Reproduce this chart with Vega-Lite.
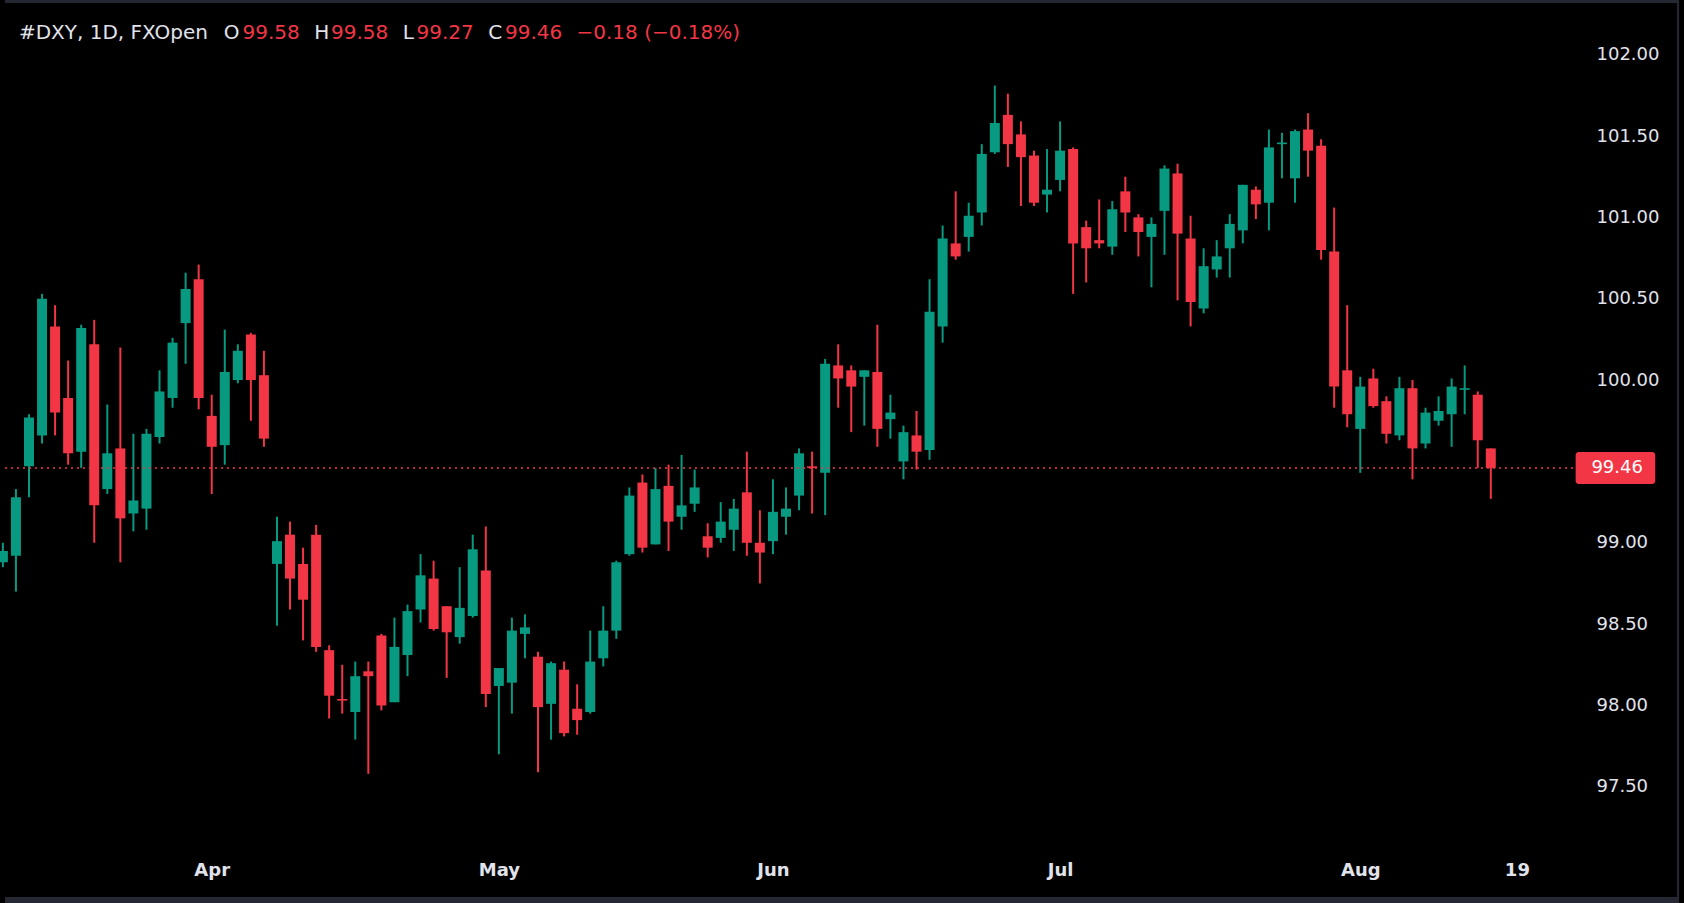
{
  "$schema": "https://vega.github.io/schema/vega-lite/v6.json",
  "width": 1684,
  "height": 903,
  "autosize": {"type": "none"},
  "padding": 0,
  "background": "#000000",
  "view": {"stroke": null, "fill": "#000000"},
  "resolve": {"axis": {"x": "independent", "y": "independent"}},
  "datasets": {
    "candles": [
      {"i":0,"o":98.88,"h":99.00,"l":98.85,"c":98.95},
      {"i":1,"o":98.92,"h":99.33,"l":98.70,"c":99.28},
      {"i":2,"o":99.47,"h":99.79,"l":99.28,"c":99.77},
      {"i":3,"o":99.66,"h":100.53,"l":99.61,"c":100.50},
      {"i":4,"o":100.33,"h":100.46,"l":99.66,"c":99.80},
      {"i":5,"o":99.89,"h":100.12,"l":99.48,"c":99.55},
      {"i":6,"o":99.56,"h":100.34,"l":99.46,"c":100.32},
      {"i":7,"o":100.22,"h":100.37,"l":99.00,"c":99.23},
      {"i":8,"o":99.33,"h":99.85,"l":99.30,"c":99.55},
      {"i":9,"o":99.58,"h":100.20,"l":98.88,"c":99.15},
      {"i":10,"o":99.18,"h":99.67,"l":99.07,"c":99.26},
      {"i":11,"o":99.21,"h":99.70,"l":99.08,"c":99.67},
      {"i":12,"o":99.65,"h":100.06,"l":99.61,"c":99.93},
      {"i":13,"o":99.89,"h":100.26,"l":99.83,"c":100.23},
      {"i":14,"o":100.35,"h":100.66,"l":100.10,"c":100.56},
      {"i":15,"o":100.62,"h":100.71,"l":99.82,"c":99.89},
      {"i":16,"o":99.78,"h":99.91,"l":99.30,"c":99.59},
      {"i":17,"o":99.60,"h":100.31,"l":99.48,"c":100.05},
      {"i":18,"o":100.00,"h":100.22,"l":99.98,"c":100.18},
      {"i":19,"o":100.28,"h":100.29,"l":99.75,"c":100.00},
      {"i":20,"o":100.03,"h":100.18,"l":99.59,"c":99.64},
      {"i":21,"o":98.87,"h":99.16,"l":98.49,"c":99.01},
      {"i":22,"o":99.05,"h":99.13,"l":98.59,"c":98.78},
      {"i":23,"o":98.87,"h":98.97,"l":98.40,"c":98.65},
      {"i":24,"o":99.05,"h":99.11,"l":98.33,"c":98.36},
      {"i":25,"o":98.34,"h":98.37,"l":97.92,"c":98.06},
      {"i":26,"o":98.04,"h":98.25,"l":97.95,"c":98.03},
      {"i":27,"o":97.96,"h":98.27,"l":97.79,"c":98.18},
      {"i":28,"o":98.21,"h":98.27,"l":97.58,"c":98.18},
      {"i":29,"o":98.43,"h":98.44,"l":97.97,"c":98.00},
      {"i":30,"o":98.02,"h":98.54,"l":98.02,"c":98.36},
      {"i":31,"o":98.31,"h":98.62,"l":98.18,"c":98.58},
      {"i":32,"o":98.59,"h":98.93,"l":98.51,"c":98.80},
      {"i":33,"o":98.78,"h":98.89,"l":98.46,"c":98.47},
      {"i":34,"o":98.61,"h":98.61,"l":98.17,"c":98.45},
      {"i":35,"o":98.42,"h":98.85,"l":98.38,"c":98.60},
      {"i":36,"o":98.55,"h":99.05,"l":98.54,"c":98.96},
      {"i":37,"o":98.83,"h":99.10,"l":97.99,"c":98.07},
      {"i":38,"o":98.12,"h":98.23,"l":97.70,"c":98.23},
      {"i":39,"o":98.14,"h":98.54,"l":97.95,"c":98.46},
      {"i":40,"o":98.44,"h":98.56,"l":98.29,"c":98.48},
      {"i":41,"o":98.30,"h":98.33,"l":97.59,"c":97.99},
      {"i":42,"o":98.01,"h":98.27,"l":97.79,"c":98.26},
      {"i":43,"o":98.22,"h":98.27,"l":97.81,"c":97.83},
      {"i":44,"o":97.98,"h":98.13,"l":97.82,"c":97.91},
      {"i":45,"o":97.96,"h":98.46,"l":97.95,"c":98.27},
      {"i":46,"o":98.29,"h":98.61,"l":98.24,"c":98.46},
      {"i":47,"o":98.46,"h":98.89,"l":98.41,"c":98.88},
      {"i":48,"o":98.93,"h":99.34,"l":98.92,"c":99.29},
      {"i":49,"o":99.37,"h":99.42,"l":98.94,"c":98.97},
      {"i":50,"o":98.99,"h":99.46,"l":98.99,"c":99.33},
      {"i":51,"o":99.35,"h":99.48,"l":98.95,"c":99.13},
      {"i":52,"o":99.16,"h":99.54,"l":99.08,"c":99.23},
      {"i":53,"o":99.24,"h":99.45,"l":99.19,"c":99.34},
      {"i":54,"o":99.04,"h":99.12,"l":98.91,"c":98.97},
      {"i":55,"o":99.03,"h":99.25,"l":99.00,"c":99.13},
      {"i":56,"o":99.08,"h":99.27,"l":98.95,"c":99.21},
      {"i":57,"o":99.31,"h":99.56,"l":98.92,"c":99.00},
      {"i":58,"o":99.00,"h":99.20,"l":98.75,"c":98.94},
      {"i":59,"o":99.01,"h":99.39,"l":98.93,"c":99.19},
      {"i":60,"o":99.16,"h":99.34,"l":99.05,"c":99.21},
      {"i":61,"o":99.29,"h":99.58,"l":99.20,"c":99.55},
      {"i":62,"o":99.47,"h":99.56,"l":99.18,"c":99.46},
      {"i":63,"o":99.43,"h":100.13,"l":99.17,"c":100.10},
      {"i":64,"o":100.09,"h":100.22,"l":99.83,"c":100.01},
      {"i":65,"o":100.06,"h":100.09,"l":99.68,"c":99.96},
      {"i":66,"o":100.02,"h":100.06,"l":99.72,"c":100.06},
      {"i":67,"o":100.05,"h":100.34,"l":99.59,"c":99.70},
      {"i":68,"o":99.76,"h":99.91,"l":99.64,"c":99.80},
      {"i":69,"o":99.50,"h":99.72,"l":99.39,"c":99.68},
      {"i":70,"o":99.66,"h":99.81,"l":99.45,"c":99.56},
      {"i":71,"o":99.57,"h":100.62,"l":99.51,"c":100.42},
      {"i":72,"o":100.33,"h":100.95,"l":100.23,"c":100.87},
      {"i":73,"o":100.84,"h":101.16,"l":100.74,"c":100.76},
      {"i":74,"o":100.88,"h":101.09,"l":100.79,"c":101.01},
      {"i":75,"o":101.03,"h":101.45,"l":100.95,"c":101.39},
      {"i":76,"o":101.40,"h":101.81,"l":101.39,"c":101.58},
      {"i":77,"o":101.63,"h":101.76,"l":101.31,"c":101.45},
      {"i":78,"o":101.51,"h":101.59,"l":101.07,"c":101.37},
      {"i":79,"o":101.38,"h":101.41,"l":101.07,"c":101.09},
      {"i":80,"o":101.14,"h":101.42,"l":101.03,"c":101.17},
      {"i":81,"o":101.23,"h":101.59,"l":101.16,"c":101.41},
      {"i":82,"o":101.42,"h":101.43,"l":100.53,"c":100.84},
      {"i":83,"o":100.94,"h":100.98,"l":100.60,"c":100.81},
      {"i":84,"o":100.86,"h":101.11,"l":100.81,"c":100.84},
      {"i":85,"o":100.82,"h":101.10,"l":100.77,"c":101.05},
      {"i":86,"o":101.16,"h":101.25,"l":100.91,"c":101.03},
      {"i":87,"o":101.00,"h":101.02,"l":100.76,"c":100.91},
      {"i":88,"o":100.88,"h":101.00,"l":100.57,"c":100.96},
      {"i":89,"o":101.04,"h":101.32,"l":100.77,"c":101.30},
      {"i":90,"o":101.27,"h":101.33,"l":100.49,"c":100.90},
      {"i":91,"o":100.87,"h":101.01,"l":100.33,"c":100.48},
      {"i":92,"o":100.44,"h":100.81,"l":100.41,"c":100.70},
      {"i":93,"o":100.68,"h":100.86,"l":100.63,"c":100.76},
      {"i":94,"o":100.81,"h":101.02,"l":100.63,"c":100.96},
      {"i":95,"o":100.92,"h":101.20,"l":100.84,"c":101.20},
      {"i":96,"o":101.17,"h":101.19,"l":100.99,"c":101.08},
      {"i":97,"o":101.09,"h":101.54,"l":100.92,"c":101.43},
      {"i":98,"o":101.45,"h":101.52,"l":101.24,"c":101.46},
      {"i":99,"o":101.24,"h":101.54,"l":101.09,"c":101.53},
      {"i":100,"o":101.54,"h":101.64,"l":101.25,"c":101.41},
      {"i":101,"o":101.44,"h":101.48,"l":100.74,"c":100.80},
      {"i":102,"o":100.79,"h":101.06,"l":99.83,"c":99.96},
      {"i":103,"o":100.06,"h":100.46,"l":99.71,"c":99.79},
      {"i":104,"o":99.70,"h":100.02,"l":99.43,"c":99.96},
      {"i":105,"o":100.01,"h":100.07,"l":99.83,"c":99.84},
      {"i":106,"o":99.87,"h":99.90,"l":99.61,"c":99.67},
      {"i":107,"o":99.66,"h":100.02,"l":99.63,"c":99.95},
      {"i":108,"o":99.95,"h":100.00,"l":99.39,"c":99.58},
      {"i":109,"o":99.61,"h":99.83,"l":99.58,"c":99.80},
      {"i":110,"o":99.75,"h":99.90,"l":99.72,"c":99.81},
      {"i":111,"o":99.79,"h":100.01,"l":99.59,"c":99.96},
      {"i":112,"o":99.94,"h":100.09,"l":99.79,"c":99.95},
      {"i":113,"o":99.91,"h":99.93,"l":99.46,"c":99.63},
      {"i":114,"o":99.58,"h":99.58,"l":99.27,"c":99.46}
    ],
    "last": [{"c": 99.46}]
  },
  "layer": [
    {
      "data": {"name": "candles"},
      "mark": {"type": "rule", "strokeWidth": 2, "clip": true},
      "encoding": {
        "x": {
          "field": "i", "type": "quantitative",
          "scale": {"domain": [0.162, 128.42], "nice": false, "zero": false},
          "axis": {
            "orient": "bottom", "offset": -33, "title": null,
            "values": [16, 38, 59, 81, 104, 116],
            "labelExpr": "datum.value == 16 ? 'Apr' : datum.value == 38 ? 'May' : datum.value == 59 ? 'Jun' : datum.value == 81 ? 'Jul' : datum.value == 104 ? 'Aug' : '19'",
            "domain": false, "ticks": false, "tickSize": 0, "grid": false,
            "labelPadding": 0, "labelBaseline": "middle",
            "labelFont": "DejaVu Sans", "labelFontSize": 18, "labelFontWeight": "bold",
            "labelColor": "#e0e3eb", "labelOverlap": false, "labelFlush": false
          }
        },
        "y": {
          "field": "l", "type": "quantitative",
          "scale": {"domain": [96.786, 102.336], "nice": false, "zero": false},
          "axis": {
            "orient": "right", "offset": -88, "title": null,
            "values": [97.5, 98, 98.5, 99, 100, 100.5, 101, 101.5, 102],
            "format": ".2f",
            "domain": false, "ticks": false, "tickSize": 0, "grid": false,
            "labelPadding": 0, "labelAlign": "left", "labelBaseline": "middle",
            "labelFont": "DejaVu Sans", "labelFontSize": 18,
            "labelColor": "#e0e3eb", "labelOverlap": false, "labelFlush": false
          }
        },
        "y2": {"field": "h"},
        "color": {"condition": {"test": "datum.c >= datum.o", "value": "#089981"}, "value": "#f23645"}
      }
    },
    {
      "data": {"name": "candles"},
      "mark": {"type": "bar", "size": 10, "clip": true},
      "encoding": {
        "x": {"field": "i", "type": "quantitative", "axis": null},
        "y": {"field": "o", "type": "quantitative", "axis": null},
        "y2": {"field": "c"},
        "color": {"condition": {"test": "datum.c >= datum.o", "value": "#089981"}, "value": "#f23645"}
      }
    },
    {
      "data": {"name": "last"},
      "mark": {"type": "rule", "color": "#f23645", "strokeWidth": 1.5, "strokeDash": [2, 4], "clip": true},
      "encoding": {
        "y": {"field": "c", "type": "quantitative", "axis": null},
        "x": {"datum": 0.162, "type": "quantitative", "axis": null},
        "x2": {"datum": 120.5}
      }
    },
    {
      "data": {"name": "last"},
      "mark": {"type": "rect", "color": "#f23645", "cornerRadius": 3},
      "encoding": {
        "x": {"datum": 120.5, "type": "quantitative", "axis": null},
        "x2": {"datum": 126.6},
        "y": {"datum": 99.362, "type": "quantitative", "axis": null},
        "y2": {"datum": 99.558}
      }
    },
    {
      "data": {"name": "last"},
      "mark": {"type": "text", "align": "left", "baseline": "middle", "font": "DejaVu Sans", "fontSize": 18, "color": "#ffffff"},
      "encoding": {
        "x": {"datum": 121.71, "type": "quantitative", "axis": null},
        "y": {"field": "c", "type": "quantitative", "axis": null},
        "text": {"field": "c", "type": "quantitative", "format": ".2f"}
      }
    },
    {
      "data": {"name": "last"},
      "mark": {"type": "rect", "color": "#252833", "clip": true},
      "encoding": {
        "x": {"datum": 0.162, "type": "quantitative", "axis": null},
        "x2": {"datum": 128.42},
        "y": {"datum": 96.786, "type": "quantitative", "axis": null},
        "y2": {"datum": 96.823}
      }
    },
    {
      "data": {"name": "last"},
      "mark": {"type": "rect", "color": "#252833", "clip": true},
      "encoding": {
        "x": {"datum": 0.162, "type": "quantitative", "axis": null},
        "x2": {"datum": 128.42},
        "y": {"datum": 102.318, "type": "quantitative", "axis": null},
        "y2": {"datum": 102.336}
      }
    },
    {
      "data": {"name": "last"},
      "mark": {"type": "rect", "color": "#252833", "clip": true},
      "encoding": {
        "x": {"datum": 128.27, "type": "quantitative", "axis": null},
        "x2": {"datum": 128.42},
        "y": {"datum": 96.786, "type": "quantitative", "axis": null},
        "y2": {"datum": 102.336}
      }
    },
    {
      "data": {"name": "last"},
      "mark": {"type": "text", "align": "left", "baseline": "middle", "font": "DejaVu Sans", "fontSize": 20, "color": "#e0e3eb"},
      "encoding": {"x": {"datum": 1.229, "type": "quantitative", "axis": null}, "y": {"datum": 102.134, "type": "quantitative", "axis": null}, "text": {"value": "#DXY, 1D, FXOpen"}}
    },
    {
      "data": {"name": "last"},
      "mark": {"type": "text", "align": "left", "baseline": "middle", "font": "DejaVu Sans", "fontSize": 20, "color": "#e0e3eb"},
      "encoding": {"x": {"datum": 16.92, "type": "quantitative", "axis": null}, "y": {"datum": 102.134, "type": "quantitative", "axis": null}, "text": {"value": "O"}}
    },
    {
      "data": {"name": "last"},
      "mark": {"type": "text", "align": "left", "baseline": "middle", "font": "DejaVu Sans", "fontSize": 20, "color": "#f23645"},
      "encoding": {"x": {"datum": 18.36, "type": "quantitative", "axis": null}, "y": {"datum": 102.134, "type": "quantitative", "axis": null}, "text": {"value": "99.58"}}
    },
    {
      "data": {"name": "last"},
      "mark": {"type": "text", "align": "left", "baseline": "middle", "font": "DejaVu Sans", "fontSize": 20, "color": "#e0e3eb"},
      "encoding": {"x": {"datum": 23.85, "type": "quantitative", "axis": null}, "y": {"datum": 102.134, "type": "quantitative", "axis": null}, "text": {"value": "H"}}
    },
    {
      "data": {"name": "last"},
      "mark": {"type": "text", "align": "left", "baseline": "middle", "font": "DejaVu Sans", "fontSize": 20, "color": "#f23645"},
      "encoding": {"x": {"datum": 25.14, "type": "quantitative", "axis": null}, "y": {"datum": 102.134, "type": "quantitative", "axis": null}, "text": {"value": "99.58"}}
    },
    {
      "data": {"name": "last"},
      "mark": {"type": "text", "align": "left", "baseline": "middle", "font": "DejaVu Sans", "fontSize": 20, "color": "#e0e3eb"},
      "encoding": {"x": {"datum": 30.63, "type": "quantitative", "axis": null}, "y": {"datum": 102.134, "type": "quantitative", "axis": null}, "text": {"value": "L"}}
    },
    {
      "data": {"name": "last"},
      "mark": {"type": "text", "align": "left", "baseline": "middle", "font": "DejaVu Sans", "fontSize": 20, "color": "#f23645"},
      "encoding": {"x": {"datum": 31.69, "type": "quantitative", "axis": null}, "y": {"datum": 102.134, "type": "quantitative", "axis": null}, "text": {"value": "99.27"}}
    },
    {
      "data": {"name": "last"},
      "mark": {"type": "text", "align": "left", "baseline": "middle", "font": "DejaVu Sans", "fontSize": 20, "color": "#e0e3eb"},
      "encoding": {"x": {"datum": 37.18, "type": "quantitative", "axis": null}, "y": {"datum": 102.134, "type": "quantitative", "axis": null}, "text": {"value": "C"}}
    },
    {
      "data": {"name": "last"},
      "mark": {"type": "text", "align": "left", "baseline": "middle", "font": "DejaVu Sans", "fontSize": 20, "color": "#f23645"},
      "encoding": {"x": {"datum": 38.47, "type": "quantitative", "axis": null}, "y": {"datum": 102.134, "type": "quantitative", "axis": null}, "text": {"value": "99.46"}}
    },
    {
      "data": {"name": "last"},
      "mark": {"type": "text", "align": "left", "baseline": "middle", "font": "DejaVu Sans", "fontSize": 20, "color": "#f23645"},
      "encoding": {"x": {"datum": 43.95, "type": "quantitative", "axis": null}, "y": {"datum": 102.134, "type": "quantitative", "axis": null}, "text": {"value": "−0.18 (−0.18%)"}}
    }
  ]
}
